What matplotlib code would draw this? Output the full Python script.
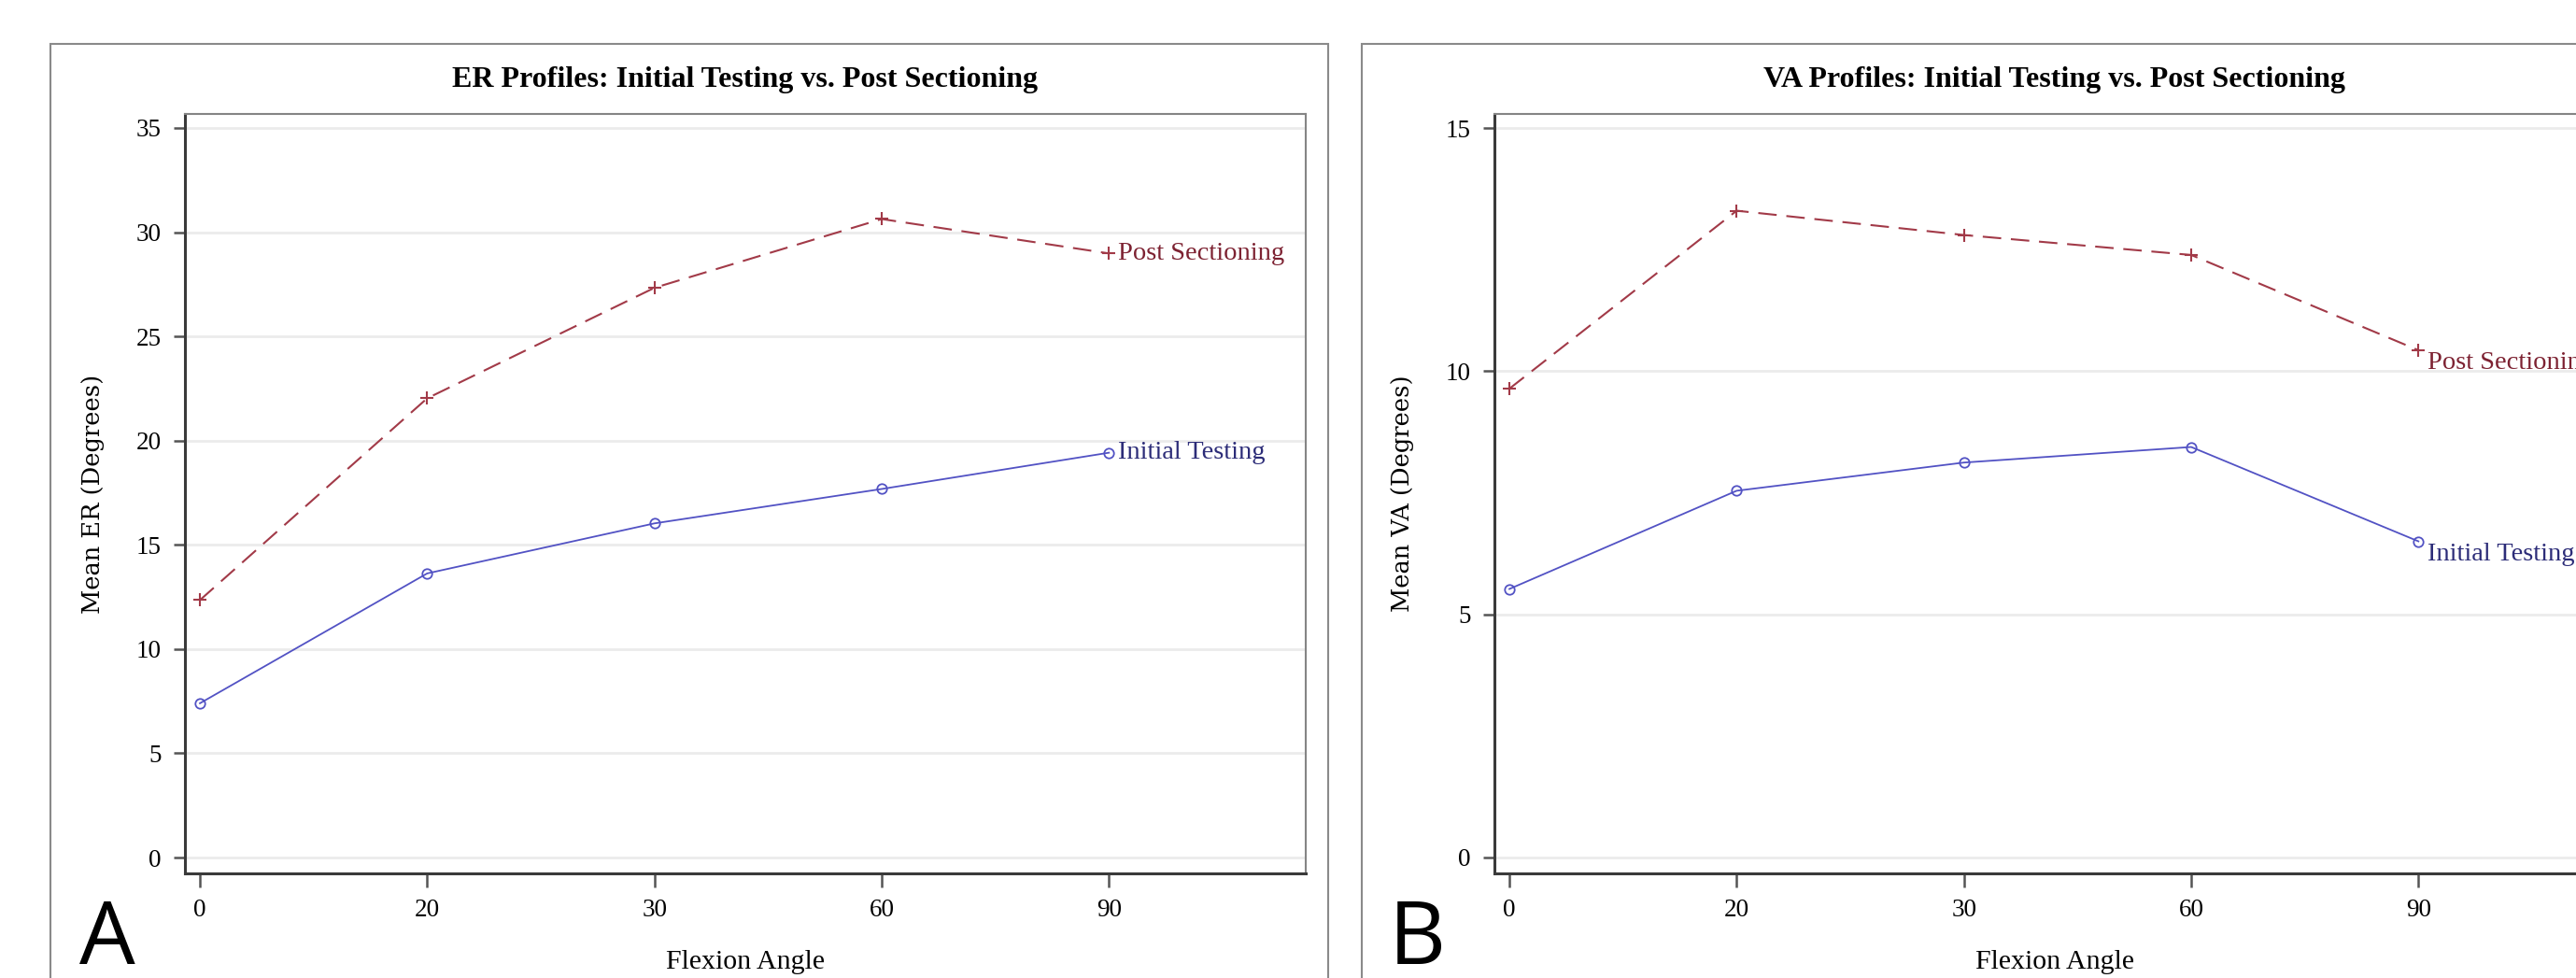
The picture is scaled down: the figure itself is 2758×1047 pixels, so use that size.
import matplotlib.pyplot as plt
from matplotlib.patches import Rectangle

# DATA.
angles = ['0', '20', '30', '60', '90']
er_initial = [7.40, 13.63, 16.03, 17.68, 19.42]
er_post = [12.35, 22.03, 27.33, 30.63, 28.98]
va_initial = [5.52, 7.54, 8.12, 8.44, 6.50]
va_post = [9.64, 13.30, 12.80, 12.39, 10.43]
er_yticks = [0, 5, 10, 15, 20, 25, 30, 35]
va_yticks = [0, 5, 10, 15]

serif = ['Liberation Serif', 'DejaVu Serif']
col_post = '#a23a48'
col_init = '#5252c4'
txt_post = '#7d2232'
txt_init = '#2c2c78'

W, H = 2758, 1047
fig = plt.figure(figsize=(W / 100, H / 100), dpi=100)

# Panel frames.
fig.patches.append(Rectangle((54 / W, -0.1), (1422 - 54) / W, 1.1 - 47 / H,
                             transform=fig.transFigure, fill=False, edgecolor='#8a8a8a', linewidth=1.5))
fig.patches.append(Rectangle((1458 / W, -0.1), 0.6, 1.1 - 47 / H,
                             transform=fig.transFigure, fill=False, edgecolor='#8a8a8a', linewidth=1.5))

ax_w = 1200 / W
ax_b = 1 - 935 / H
ax_h = (935 - 122) / H
axA = fig.add_axes([198 / W, ax_b, ax_w, ax_h])
axB = fig.add_axes([1600 / W, ax_b, ax_w, ax_h])

panels = [
    (axA, er_initial, er_post, er_yticks, (-0.76, 35.67), 'ER Profiles: Initial Testing vs. Post Sectioning', 'Mean ER (Degrees)', 'A'),
    (axB, va_initial, va_post, va_yticks, (-0.33, 15.29), 'VA Profiles: Initial Testing vs. Post Sectioning', 'Mean VA (Degrees)', 'B'),
]

xs = list(range(len(angles)))
for ax, init, post, yt, ylim, title, ylab, letter in panels:
    for y in yt:
        ax.axhline(y, color='#ebebeb', linewidth=2, zorder=0)
    ax.plot(xs, post, color=col_post, linewidth=1.5, dashes=(9.5, 5),
            marker='+', markersize=10, markeredgewidth=1.5, zorder=3)
    ax.plot(xs, init, color=col_init, linewidth=1.3, marker='o', markersize=7.5,
            markerfacecolor='none', markeredgewidth=1.3, zorder=3)
    if letter == 'A':
        ax.annotate('Post Sectioning', xy=(xs[-1], post[-1]), xytext=(7, 0), textcoords='offset points',
                    va='center', ha='left', color=txt_post, fontsize=20.5, family=serif)
        ax.annotate('Initial Testing', xy=(xs[-1], init[-1]), xytext=(7, 0), textcoords='offset points',
                    va='center', ha='left', color=txt_init, fontsize=20.5, family=serif)
    else:
        ax.annotate('Post Sectioning', xy=(xs[-1], post[-1]), xytext=(7, -1), textcoords='offset points',
                    va='top', ha='left', color=txt_post, fontsize=20.5, family=serif, annotation_clip=False)
        ax.annotate('Initial Testing', xy=(xs[-1], init[-1]), xytext=(7, -1), textcoords='offset points',
                    va='top', ha='left', color=txt_init, fontsize=20.5, family=serif, annotation_clip=False)

    ax.set_xlim(-0.066, 4.866)
    ax.set_ylim(*ylim)
    ax.set_xticks(xs)
    ax.set_xticklabels(angles, family=serif, fontsize=19.5)
    ax.set_yticks(yt)
    ax.set_yticklabels([str(v) for v in yt], family=serif, fontsize=19.5)
    ax.tick_params(axis='x', length=10.5, width=1.8, color='#555555', pad=9)
    ax.tick_params(axis='y', length=9, width=1.8, color='#555555', pad=9)
    for s in ['left', 'bottom']:
        ax.spines[s].set_color('#3a3a3a')
        ax.spines[s].set_linewidth(2.2)
    for s in ['top', 'right']:
        ax.spines[s].set_color('#858585')
        ax.spines[s].set_linewidth(1.5)

    ax.set_title(title, family=serif, fontweight='bold', fontsize=23, pad=21)
    ax.set_ylabel(ylab, family=['DejaVu Serif'], fontsize=18.5)
    ax.yaxis.set_label_coords(-0.0817, 0.5)
    ax.yaxis.label.set_verticalalignment('center')
    ax.set_xlabel('Flexion Angle', family=serif, fontsize=21.5)
    ax.xaxis.set_label_coords(0.5, -0.1169)
    ax.xaxis.label.set_verticalalignment('center')

fig.text(85 / W, 1 - 1032 / H, 'A', family=['Open Sans', 'DejaVu Sans'], fontsize=68, ha='left', va='baseline')
fig.text(1487 / W, 1 - 1032 / H, 'B', family=['Open Sans', 'DejaVu Sans'], fontsize=68, ha='left', va='baseline')

plt.savefig('out.png', format='png', dpi=100)
